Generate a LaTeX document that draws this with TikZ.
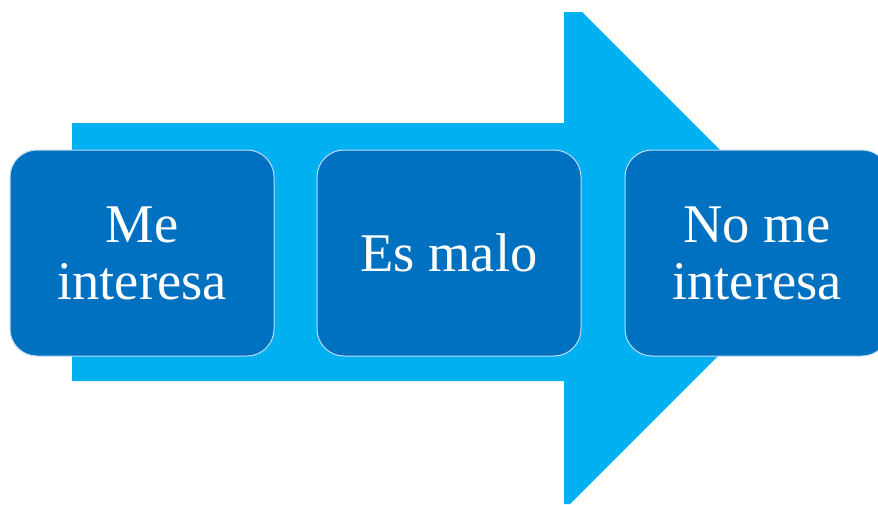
\documentclass[tikz,border=0pt]{standalone}
\usepackage{fontspec}
\setmainfont{Liberation Serif}
\definecolor{arrowcyan}{HTML}{00B0F0}
\definecolor{boxblue}{HTML}{0070C0}
\definecolor{edgelight}{HTML}{BFDDF2}
\begin{document}
\begin{tikzpicture}[x=1pt,y=-1pt,
  stagebox/.style={draw=edgelight, line width=1pt, fill=boxblue, rounded corners=27pt,
    minimum width=264pt, minimum height=206pt, inner sep=0pt, text=white,
    align=center, font=\fontsize{54.5}{57}\selectfont}]
\useasboundingbox (0,0) rectangle (878,504);
\clip (0,0) rectangle (878,504);
\fill[arrowcyan] (72,123) -- (564,123) -- (564,12) -- (582,12) -- (822,252)
  -- (570,504) -- (564,504) -- (564,381) -- (72,381) -- cycle;
\node[stagebox] (b1) at (142,253) {Me\\interesa};
\node[stagebox] (b2) at (449,253) {Es malo};
\node[stagebox] (b3) at (757,253) {No me\\interesa};
\end{tikzpicture}
\end{document}
